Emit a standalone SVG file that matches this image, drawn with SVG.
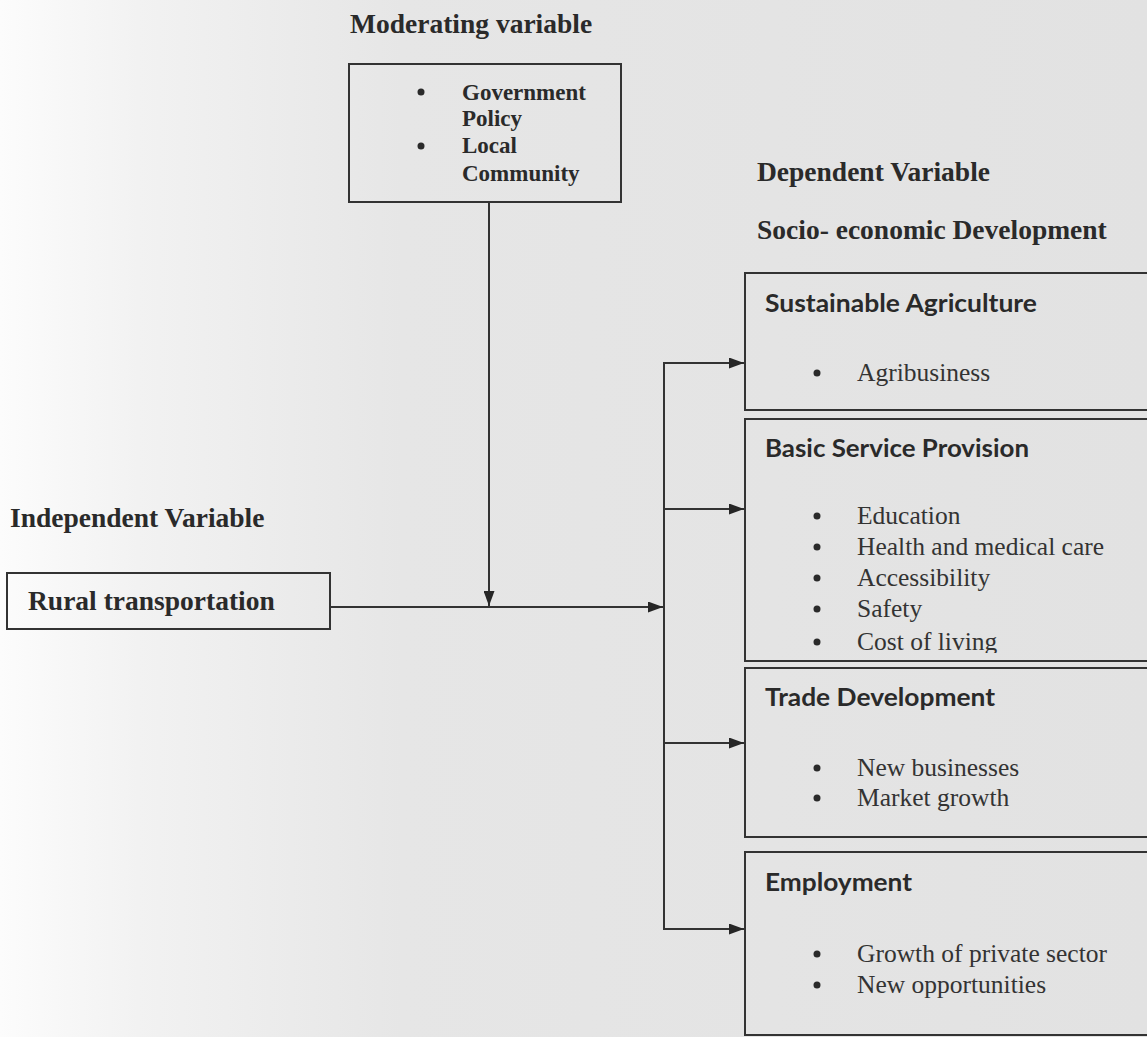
<svg xmlns="http://www.w3.org/2000/svg" width="1147" height="1037" viewBox="0 0 1147 1037">
<defs>
<linearGradient id="bg" x1="0" y1="0" x2="1" y2="0">
<stop offset="0" stop-color="#fcfcfc"/>
<stop offset="0.12" stop-color="#f2f2f2"/>
<stop offset="0.35" stop-color="#e6e6e6"/>
<stop offset="1" stop-color="#e2e2e2"/>
</linearGradient>
<marker id="arr" viewBox="0 0 15 11" refX="15" refY="5.5" markerWidth="15" markerHeight="11" markerUnits="userSpaceOnUse" orient="auto">
<path d="M0,0 L15,5.5 L0,11 Z" fill="#262626"/>
</marker>
<clipPath id="clipBasic"><rect x="745" y="419" width="410" height="234"/></clipPath>
</defs>
<style>
.box{fill:none;stroke:#333;stroke-width:2}
.line{fill:none;stroke:#333;stroke-width:2}
.hd{font-family:"Liberation Serif","Times New Roman",serif;font-weight:bold;font-size:27.5px;fill:#2a2a2a}
.mod{font-family:"Liberation Serif","Times New Roman",serif;font-weight:bold;font-size:23px;fill:#2a2a2a}
.sh{font-family:Lato,"Open Sans","Liberation Sans",sans-serif;font-weight:bold;font-size:25px;fill:#2a2a2a}
.it{font-family:"Liberation Serif","Times New Roman",serif;font-size:25.5px;fill:#333}
.bul{fill:#2a2a2a}
</style>
<rect x="0" y="0" width="1147" height="1037" fill="url(#bg)"/>

<g id="title-moderating">
<text class="hd" x="350" y="33">Moderating variable</text>
</g>

<g id="node-moderating">
<rect class="box" x="349" y="64" width="272" height="138"/>
<circle class="bul" cx="421" cy="92" r="3.5"/>
<text class="mod" x="462" y="100">Government</text>
<text class="mod" x="462" y="126">Policy</text>
<circle class="bul" cx="421" cy="146" r="3.5"/>
<text class="mod" x="462" y="153">Local</text>
<text class="mod" x="462" y="181">Community</text>
</g>

<g id="title-dependent">
<text class="hd" x="757" y="181">Dependent Variable</text>
<text class="hd" x="757" y="239">Socio- economic Development</text>
</g>

<g id="title-independent">
<text class="hd" x="10" y="527">Independent Variable</text>
</g>

<g id="node-rural">
<rect class="box" x="7" y="573" width="323" height="56"/>
<text class="hd" x="28" y="610">Rural transportation</text>
</g>

<g id="node-agriculture">
<rect class="box" x="745" y="273" width="420" height="137"/>
<text class="sh" x="765" y="312" textLength="272" lengthAdjust="spacingAndGlyphs">Sustainable Agriculture</text>
<circle class="bul" cx="817" cy="373" r="3.5"/>
<text class="it" x="857" y="381">Agribusiness</text>
</g>

<g id="node-basic">
<rect class="box" x="745" y="419" width="420" height="242"/>
<text class="sh" x="765" y="457" textLength="264" lengthAdjust="spacingAndGlyphs">Basic Service Provision</text>
<g clip-path="url(#clipBasic)">
<circle class="bul" cx="817" cy="516" r="3.5"/>
<text class="it" x="857" y="524">Education</text>
<circle class="bul" cx="817" cy="547" r="3.5"/>
<text class="it" x="857" y="555">Health and medical care</text>
<circle class="bul" cx="817" cy="578" r="3.5"/>
<text class="it" x="857" y="586">Accessibility</text>
<circle class="bul" cx="817" cy="609" r="3.5"/>
<text class="it" x="857" y="617">Safety</text>
<circle class="bul" cx="817" cy="642" r="3.5"/>
<text class="it" x="857" y="650">Cost of living</text>
</g>
</g>

<g id="node-trade">
<rect class="box" x="745" y="668" width="420" height="169"/>
<text class="sh" x="765" y="706" textLength="230" lengthAdjust="spacingAndGlyphs">Trade Development</text>
<circle class="bul" cx="817" cy="768" r="3.5"/>
<text class="it" x="857" y="776">New businesses</text>
<circle class="bul" cx="817" cy="798" r="3.5"/>
<text class="it" x="857" y="806">Market growth</text>
</g>

<g id="node-employment">
<rect class="box" x="745" y="852" width="420" height="183"/>
<text class="sh" x="765" y="891" textLength="147" lengthAdjust="spacingAndGlyphs">Employment</text>
<circle class="bul" cx="817" cy="954" r="3.5"/>
<text class="it" x="857" y="962">Growth of private sector</text>
<circle class="bul" cx="817" cy="985" r="3.5"/>
<text class="it" x="857" y="993">New opportunities</text>
</g>

<g id="connectors">
<line class="line" x1="489" y1="202" x2="489" y2="606" marker-end="url(#arr)"/>
<line class="line" x1="330" y1="607" x2="663" y2="607" marker-end="url(#arr)"/>
<line class="line" x1="664" y1="362" x2="664" y2="930"/>
<line class="line" x1="663" y1="363" x2="744" y2="363" marker-end="url(#arr)"/>
<line class="line" x1="663" y1="509" x2="744" y2="509" marker-end="url(#arr)"/>
<line class="line" x1="663" y1="743" x2="744" y2="743" marker-end="url(#arr)"/>
<line class="line" x1="663" y1="929" x2="744" y2="929" marker-end="url(#arr)"/>
</g>
</svg>
